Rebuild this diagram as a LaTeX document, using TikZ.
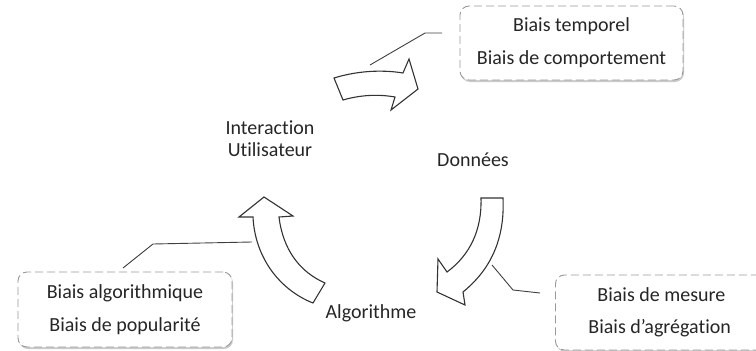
\documentclass[tikz,border=0pt]{standalone}
\usepackage{fontspec}
\setmainfont[Ligatures=NoCommon]{Carlito}
\usetikzlibrary{shapes, shadows}
\tikzstyle{stage} = [font=\fontsize{20}{22}\selectfont, text=black!85, align=center]
\tikzstyle{biasbox} = [rectangle, rounded corners=9pt, draw=black!40, dash pattern=on 8pt off 4pt, line width=0.9pt, fill=white, font=\fontsize{20}{22}\selectfont, text=black!85, drop shadow={shadow xshift=1pt, shadow yshift=-2pt, opacity=0.35, fill=black!60}]
\tikzstyle{flow} = [draw=black!80, line width=1.1pt, fill=white, line join=miter]
\tikzstyle{leader} = [draw=black!75, line width=0.9pt]

\begin{document}
\begin{tikzpicture}[x=1pt, y=-1pt]
\clip (0,0) rectangle (756,351);

\node (user) [stage] at (270,139) {Interaction\\Utilisateur};
\node (data) [stage] at (473,160) {Données};
\node (algo) [stage] at (371,313) {Algorithme};

\node (tbox) [biasbox, minimum width=223pt, minimum height=74pt, align=center] at (571.5,43) {Biais temporel\\[11pt]Biais de comportement};
\node (lbox) [biasbox, minimum width=214pt, minimum height=75pt, align=center] at (125,309.5) {Biais algorithmique\\[11pt]Biais de popularité};
\node (rbox) [biasbox, anchor=west, minimum height=75pt, inner xsep=33pt, align=left] at (555,312.5) {\hspace*{9pt}Biais de mesure\\[10pt]Biais d’agrégation\hspace*{40pt}};

% block arrows of the cycle
\draw [flow] (334,78) .. controls (360,70) and (385,70) .. (403,73) -- (409,59) -- (418,89) -- (391,110) -- (395,97) .. controls (378,94) and (360,95) .. (343,100) -- cycle;
\draw [flow] (481,198) -- (503,198) .. controls (505,240) and (490,270) .. (463,292) -- (465,305) -- (437,292) -- (438,259) -- (447,272) .. controls (470,255) and (482,230) .. (481,198) -- cycle;
\draw [flow] (264,197) -- (293,216) -- (279,217) .. controls (283,250) and (300,272) .. (325,283) -- (313,303) .. controls (280,290) and (255,258) .. (253,217) -- (239,217) -- cycle;

% leaders
\coordinate (tend) at (370,65);
\coordinate (lend) at (252,242);
\coordinate (rend) at (492,265);
\draw [leader] (tend) -- (425,33) -- (442,33);
\draw [leader] (123,268) -- (153,244) -- (lend);
\draw [leader] (rend) -- (513,290) -- (540,293);

\end{tikzpicture}
\end{document}
